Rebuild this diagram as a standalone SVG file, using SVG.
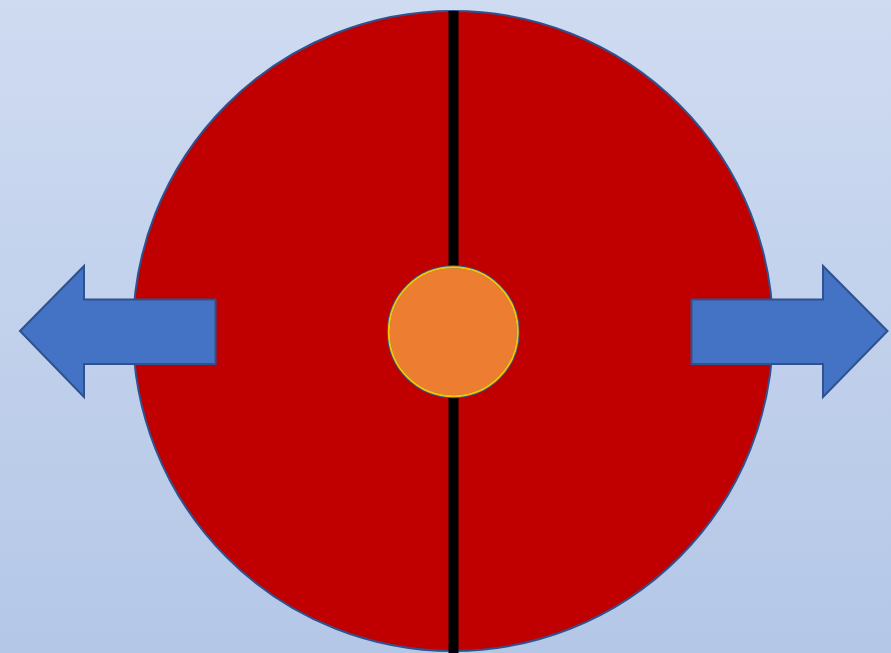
<svg xmlns="http://www.w3.org/2000/svg" width="891" height="653" viewBox="0 0 891 653">
<defs>
<linearGradient id="bg" x1="0" y1="0" x2="0" y2="1">
<stop offset="0" stop-color="#cfdbf1"/>
<stop offset="1" stop-color="#b4c7e7"/>
</linearGradient>
<style>
.arrow{fill:#4472c4;stroke:#2f528f;stroke-width:2;stroke-linejoin:miter}
</style>
</defs>
<rect width="891" height="653" fill="url(#bg)"/>
<g id="disc">
<circle cx="453" cy="331" r="320" fill="#c00000" stroke="#2f528f" stroke-width="2"/>
</g>
<g id="divider">
<rect x="448.5" y="11" width="10" height="642" fill="#000"/>
</g>
<g id="hub">
<circle cx="453.3" cy="331.7" r="65" fill="#ed7d31" stroke="#2f528f" stroke-width="3"/>
<circle cx="453.3" cy="331.7" r="64.5" fill="none" stroke="#ffc000" stroke-width="2"/>
</g>
<g id="left-arrow">
<polygon class="arrow" points="20,331 84,266 84,299.5 215.5,299.5 215.5,364 84,364 84,397"/>
</g>
<g id="right-arrow">
<polygon class="arrow" points="887.5,331 823,266 823,299.5 691.5,299.5 691.5,364 823,364 823,397"/>
</g>
</svg>
